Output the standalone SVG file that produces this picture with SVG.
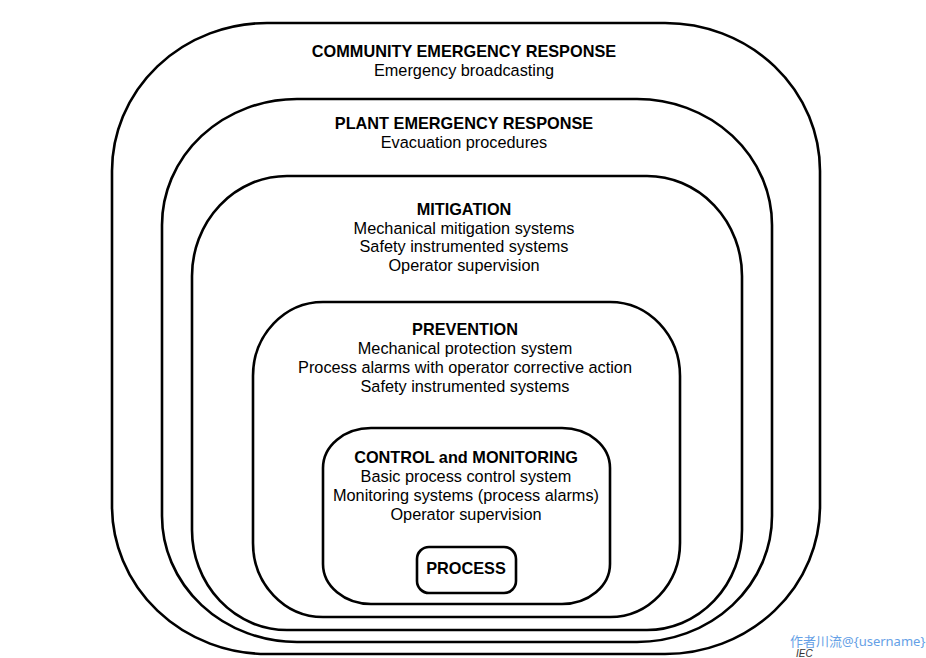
<svg xmlns="http://www.w3.org/2000/svg" width="926" height="658" viewBox="0 0 926 658">
<style>
.b{fill:#fff;stroke:#000;stroke-width:2.6}
.t{font-family:"Liberation Sans",Arial,sans-serif;font-size:16.3px;fill:#000;text-anchor:middle}
.h{font-weight:bold}
</style>
<rect width="926" height="658" fill="#fff"/>
<g id="community">
<rect class="b" x="112" y="23" width="708" height="631" rx="155" ry="148"/>
<text class="t h" x="464" y="56.5">COMMUNITY EMERGENCY RESPONSE</text>
<text class="t" x="464" y="75.5">Emergency broadcasting</text>
</g>
<g id="plant">
<rect class="b" x="162" y="99" width="610" height="543" rx="135" ry="126"/>
<text class="t h" x="464" y="128.5">PLANT EMERGENCY RESPONSE</text>
<text class="t" x="464" y="147.5">Evacuation procedures</text>
</g>
<g id="mitigation">
<rect class="b" x="192" y="176" width="550" height="454" rx="95" ry="100"/>
<text class="t h" x="464" y="214.5">MITIGATION</text>
<text class="t" x="464" y="233.5">Mechanical mitigation systems</text>
<text class="t" x="464" y="251.5">Safety instrumented systems</text>
<text class="t" x="464" y="270.5">Operator supervision</text>
</g>
<g id="prevention">
<rect class="b" x="253" y="302" width="427" height="315" rx="70" ry="74"/>
<text class="t h" x="465" y="334.5">PREVENTION</text>
<text class="t" x="465" y="353.5">Mechanical protection system</text>
<text class="t" x="465" y="372.5">Process alarms with operator corrective action</text>
<text class="t" x="465" y="391.5">Safety instrumented systems</text>
</g>
<g id="control">
<rect class="b" x="323" y="428" width="287" height="176" rx="48" ry="40"/>
<text class="t h" x="466" y="462.5">CONTROL and MONITORING</text>
<text class="t" x="466" y="481.5">Basic process control system</text>
<text class="t" x="466" y="500.5">Monitoring systems (process alarms)</text>
<text class="t" x="466" y="519.5">Operator supervision</text>
</g>
<g id="process">
<rect class="b" x="417" y="547" width="99" height="46" rx="12" ry="12"/>
<text class="t h" x="466" y="573.5">PROCESS</text>
</g>
<g id="connectors"></g>
<text x="796" y="657" style="font-family:'Liberation Sans',Arial,sans-serif;font-size:10px;font-style:italic;fill:#333">IEC</text>
<text x="790" y="646" style="font-family:'Noto Sans','Noto Sans CJK SC',sans-serif;font-size:13px;fill:#4a90e2;opacity:0.85">作者川流@{username}</text>
</svg>
